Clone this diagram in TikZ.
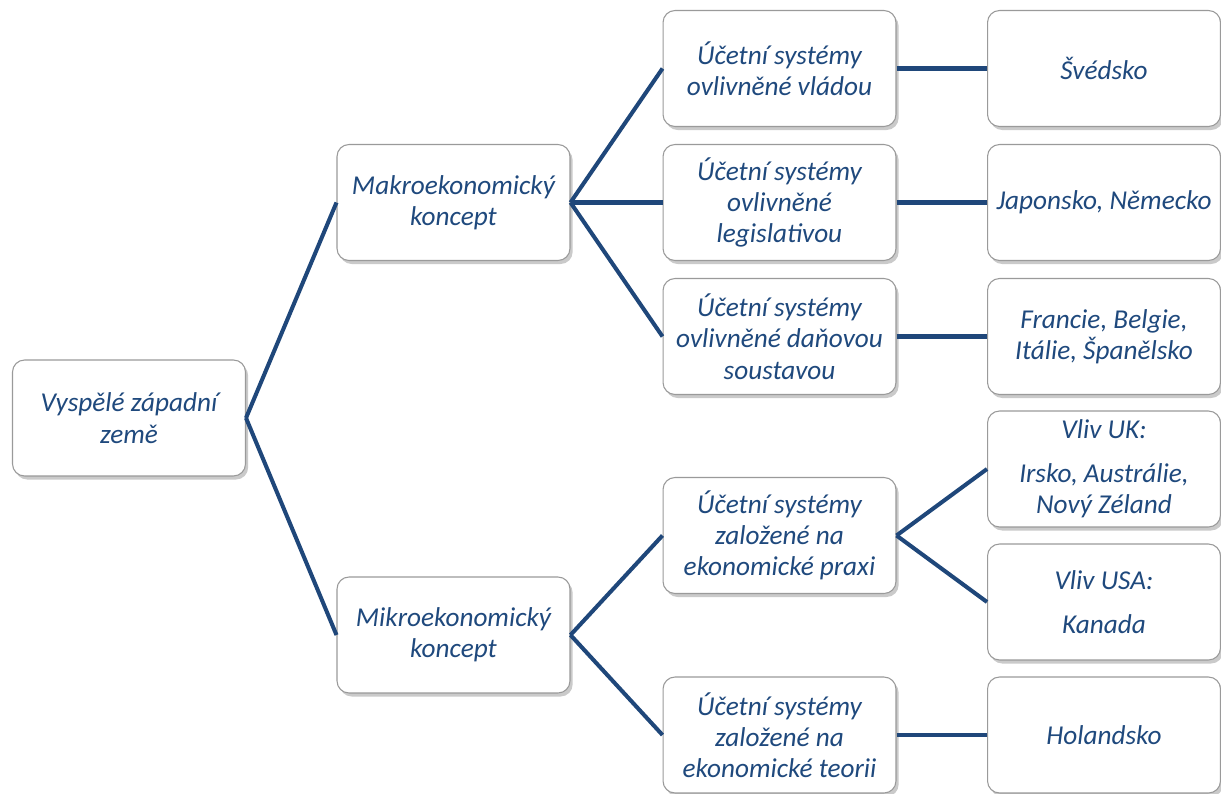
\documentclass[tikz,border=0pt]{standalone}
\usepackage{fontspec}
\setmainfont{Carlito}
\usetikzlibrary{shadows}
\definecolor{txtblue}{HTML}{1F497D}
\definecolor{lineblue}{HTML}{1F477A}
\definecolor{boxgray}{HTML}{9A9A9A}
\frenchspacing
\tikzset{
  box/.style={draw=boxgray, line width=0.6pt, fill=white, rounded corners=0.24cm,
    minimum width=4.66cm, minimum height=2.32cm, align=center,
    font=\fontsize{15.5}{17.8}\selectfont\itshape, text=txtblue,
    drop shadow={opacity=0.35, shadow xshift=1.5pt, shadow yshift=-2pt, fill=black!60}},
  conn/.style={draw=lineblue, line width=2.3pt}
}
\begin{document}
\begin{tikzpicture}[x=0.02cm,y=-0.02cm]
\useasboundingbox (0,0) rectangle (1221,794);
\node[box] (root) at (129,418) {Vyspělé západní\\země};
\node[box] (makro) at (453.5,202.5) {Makroekonomický\\koncept};
\node[box] (mikro) at (453.5,635) {Mikroekonomický\\koncept};
\node[box] (a) at (779.5,68.5) {Účetní systémy\\ovlivněné vládou};
\node[box] (b) at (779.5,202.5) {Účetní systémy\\ovlivněné\\legislativou};
\node[box] (c) at (779.5,336.5) {Účetní systémy\\ovlivněné daňovou\\soustavou};
\node[box] (d) at (779.5,535.5) {Účetní systémy\\založené na\\ekonomické praxi};
\node[box] (e) at (779.5,735) {Účetní systémy\\založené na\\ekonomické teorii};
\node[box] (swe) at (1104,68.5) {Švédsko};
\node[box] (jap) at (1104,202.5) {Japonsko, Německo};
\node[box] (fra) at (1104,336.5) {Francie, Belgie,\\Itálie, Španělsko};
\node[box] (uk) at (1104,469) {Vliv UK:\\[7pt]Irsko, Austrálie,\\Nový Zéland};
\node[box] (usa) at (1104,602) {Vliv USA:\\[7pt]Kanada};
\node[box] (hol) at (1104,735) {Holandsko};
\draw[conn] (root.east) -- (makro.west);
\draw[conn] (root.east) -- (mikro.west);
\draw[conn] (makro.east) -- (a.west);
\draw[conn] (makro.east) -- (b.west);
\draw[conn] (makro.east) -- (c.west);
\draw[conn] (mikro.east) -- (d.west);
\draw[conn] (mikro.east) -- (e.west);
\draw[conn] (a.east) -- (swe.west);
\draw[conn] (b.east) -- (jap.west);
\draw[conn] (c.east) -- (fra.west);
\draw[conn] (d.east) -- (uk.west);
\draw[conn] (d.east) -- (usa.west);
\draw[conn] (e.east) -- (hol.west);
\end{tikzpicture}
\end{document}
